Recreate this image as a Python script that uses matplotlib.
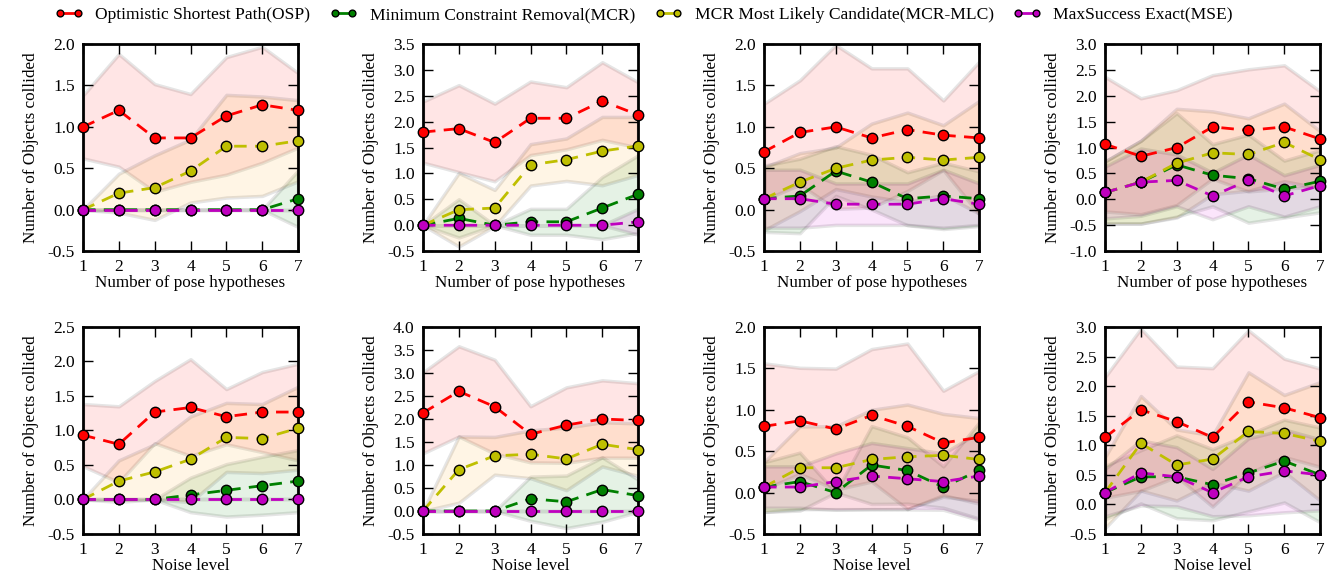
import matplotlib
matplotlib.use("Agg")
import matplotlib.pyplot as plt
import numpy as np

# x positions shared by every panel
X = [1, 2, 3, 4, 5, 6, 7]

# one list per panel: top row (pose hypotheses), then bottom row (noise level)
OSP_MEAN = [
    [1.0, 1.2, 0.867, 0.867, 1.133, 1.267, 1.2],
    [1.8, 1.867, 1.6, 2.067, 2.067, 2.4, 2.133],
    [0.7, 0.933, 1.0, 0.867, 0.967, 0.9, 0.867],
    [1.067, 0.833, 1.0, 1.4, 1.333, 1.4, 1.167],
    [0.933, 0.8, 1.267, 1.333, 1.2, 1.267, 1.267],
    [2.133, 2.6, 2.267, 1.667, 1.867, 2.0, 1.967],
    [0.8, 0.867, 0.767, 0.933, 0.8, 0.6, 0.667],
    [1.133, 1.6, 1.4, 1.133, 1.733, 1.633, 1.467],
]
OSP_STD = [
    [0.38, 0.68, 0.65, 0.53, 0.71, 0.70, 0.45],
    [0.59, 0.84, 0.75, 0.71, 0.60, 0.75, 0.63],
    [0.58, 0.63, 0.99, 0.84, 0.74, 0.42, 0.92],
    [1.30, 1.12, 1.11, 1.00, 1.18, 1.19, 0.92],
    [0.45, 0.55, 0.45, 0.70, 0.40, 0.58, 0.70],
    [0.88, 0.98, 1.02, 0.61, 0.82, 0.84, 0.81],
    [0.76, 0.64, 0.73, 0.80, 1.00, 0.63, 0.80],
    [1.02, 1.37, 0.93, 1.17, 1.21, 0.83, 0.83],
]
MCR_MEAN = [
    [0.0, 0.0, 0.0, 0.0, 0.0, 0.0, 0.133],
    [0.0, 0.133, 0.0, 0.067, 0.067, 0.333, 0.6],
    [0.133, 0.167, 0.467, 0.333, 0.133, 0.167, 0.133],
    [0.133, 0.333, 0.667, 0.467, 0.4, 0.2, 0.35],
    [0.0, 0.0, 0.0, 0.067, 0.133, 0.2, 0.267],
    [0.0, 0.0, 0.0, 0.267, 0.2, 0.467, 0.333],
    [0.067, 0.133, 0.0, 0.333, 0.267, 0.067, 0.267],
    [0.2, 0.467, 0.467, 0.333, 0.533, 0.733, 0.5],
]
MCR_STD = [
    [0.0, 0.0, 0.0, 0.0, 0.0, 0.0, 0.34],
    [0.0, 0.37, 0.0, 0.25, 0.25, 0.60, 0.75],
    [0.40, 0.45, 0.30, 0.33, 0.32, 0.40, 0.33],
    [0.60, 0.80, 1.00, 0.60, 0.85, 0.55, 0.60],
    [0.0, 0.0, 0.0, 0.25, 0.38, 0.42, 0.45],
    [0.0, 0.0, 0.0, 0.48, 0.57, 0.70, 0.35],
    [0.30, 0.35, 0.0, 0.47, 0.40, 0.25, 0.58],
    [0.45, 0.45, 0.70, 0.60, 0.65, 0.70, 0.80],
]
MLC_MEAN = [
    [0.0, 0.2, 0.267, 0.467, 0.767, 0.767, 0.833],
    [0.0, 0.3, 0.333, 1.167, 1.267, 1.433, 1.533],
    [0.133, 0.333, 0.5, 0.6, 0.633, 0.6, 0.633],
    [0.133, 0.333, 0.7, 0.9, 0.867, 1.1, 0.767],
    [0.0, 0.267, 0.4, 0.583, 0.9, 0.883, 1.033],
    [0.0, 0.9, 1.2, 1.233, 1.133, 1.45, 1.333],
    [0.067, 0.3, 0.3, 0.4, 0.433, 0.45, 0.4],
    [0.2, 1.033, 0.667, 0.767, 1.233, 1.2, 1.067],
]
MLC_STD = [
    [0.0, 0.235, 0.39, 0.38, 0.62, 0.60, 0.49],
    [0.0, 0.71, 0.35, 0.40, 0.41, 0.66, 0.56],
    [0.38, 0.35, 0.25, 0.44, 0.54, 0.42, 0.68],
    [0.60, 0.80, 1.05, 0.80, 0.70, 0.75, 0.55],
    [0.0, 0.30, 0.40, 0.62, 0.50, 0.50, 0.60],
    [0.0, 0.72, 0.41, 0.52, 0.68, 0.48, 0.57],
    [0.30, 0.50, 0.50, 0.60, 0.63, 0.50, 0.50],
    [0.60, 0.80, 0.60, 0.40, 1.00, 0.65, 1.00],
]
MSE_MEAN = [
    [0.0, 0.0, 0.0, 0.0, 0.0, 0.0, 0.0],
    [0.0, 0.0, 0.0, 0.0, 0.0, 0.0, 0.067],
    [0.133, 0.133, 0.067, 0.067, 0.067, 0.133, 0.067],
    [0.133, 0.333, 0.367, 0.067, 0.367, 0.067, 0.267],
    [0.0, 0.0, 0.0, 0.0, 0.0, 0.0, 0.0],
    [0.0, 0.0, 0.0, 0.0, 0.0, 0.0, 0.0],
    [0.067, 0.067, 0.133, 0.2, 0.167, 0.133, 0.2],
    [0.2, 0.533, 0.467, 0.2, 0.467, 0.567, 0.5],
]
MSE_STD = [
    [0.0, 0.0, 0.0, 0.0, 0.0, 0.0, 0.0],
    [0.0, 0.0, 0.0, 0.0, 0.0, 0.0, 0.25],
    [0.35, 0.35, 0.25, 0.25, 0.25, 0.35, 0.25],
    [0.50, 0.65, 0.50, 0.45, 0.50, 0.40, 0.40],
    [0.0, 0.0, 0.0, 0.0, 0.0, 0.0, 0.0],
    [0.0, 0.0, 0.0, 0.0, 0.0, 0.0, 0.0],
    [0.25, 0.25, 0.34, 0.40, 0.37, 0.34, 0.53],
    [0.40, 0.55, 0.50, 0.40, 0.65, 0.70, 0.60],
]

Y_LIMS = [(-0.5, 2.0), (-0.5, 3.5), (-0.5, 2.0), (-1.0, 3.0),
          (-0.5, 2.5), (-0.5, 4.0), (-0.5, 2.0), (-0.5, 3.0)]
X_LABELS = ["Number of pose hypotheses"] * 4 + ["Noise level"] * 4
Y_LABEL = "Number of Objects collided"

# label, means, stds, line colour, band colour
SERIES = [
    ("Optimistic Shortest Path(OSP)", OSP_MEAN, OSP_STD, (1, 0, 0), (1, 0, 0)),
    ("Minimum Constraint Removal(MCR)", MCR_MEAN, MCR_STD, (0, 0.5, 0), (0, 0.5, 0)),
    ("MCR Most Likely Candidate(MCR-MLC)", MLC_MEAN, MLC_STD, (0.75, 0.75, 0), (1, 0.65, 0)),
    ("MaxSuccess Exact(MSE)", MSE_MEAN, MSE_STD, (0.75, 0, 0.75), (0.85, 0, 0.85)),
]

plt.rcParams["font.family"] = ["Liberation Serif", "DejaVu Serif"]
plt.rcParams["lines.dashed_pattern"] = [9, 6]
plt.rcParams["lines.scale_dashes"] = False

fig = plt.figure(figsize=(13.36, 5.8), dpi=100)
lefts = [0.0621, 0.3166, 0.5719, 0.8271]
bottoms = [0.567, 0.0793]
w, h = 0.161, 0.357

handles = []
for i in range(8):
    ax = fig.add_axes([lefts[i % 4], bottoms[i // 4], w, h])
    x = np.array(X)
    for name, means, stds, c, fc in SERIES:
        m = np.array(means[i])
        s = np.array(stds[i])
        ax.fill_between(x, m - s, m + s, facecolor=fc, alpha=0.1,
                        edgecolor="black", linewidth=2.5)
    for name, means, stds, c, fc in SERIES:
        ln, = ax.plot(x, means[i], "--o", color=c, lw=2,
                      markersize=7.5, markeredgecolor="black",
                      markeredgewidth=1, label=name, clip_on=False, zorder=3)
        if i == 0:
            handles.append(ln)
    lo, hi = Y_LIMS[i]
    ax.set_xlim(1, 7)
    ax.set_ylim(lo, hi)
    ax.set_xticks(X)
    ax.set_yticks(np.arange(lo, hi + 0.01, 0.5))
    ax.yaxis.set_major_formatter(matplotlib.ticker.FormatStrFormatter("%.1f"))
    ax.tick_params(direction="in", top=True, right=True, length=7, width=1,
                   labelsize=12.5, pad=6)
    for sp in ax.spines.values():
        sp.set_linewidth(2)
    ax.set_xlabel(X_LABELS[i], fontsize=12.3, labelpad=0)
    ax.set_ylabel(Y_LABEL, fontsize=12.3, labelpad=6)

# legend handles drawn solid, like the reference key
leg = fig.legend(handles=handles, loc="upper center", ncol=4, frameon=False,
                 numpoints=2, fontsize=12.6, handlelength=1.6, markerscale=0.65,
                 columnspacing=1.1, handletextpad=0.7,
                 bbox_to_anchor=(0.482, 1.015))
for lh in leg.get_lines():
    lh.set_linestyle("-")

plt.savefig("out.png", dpi=100)
plt.close()
